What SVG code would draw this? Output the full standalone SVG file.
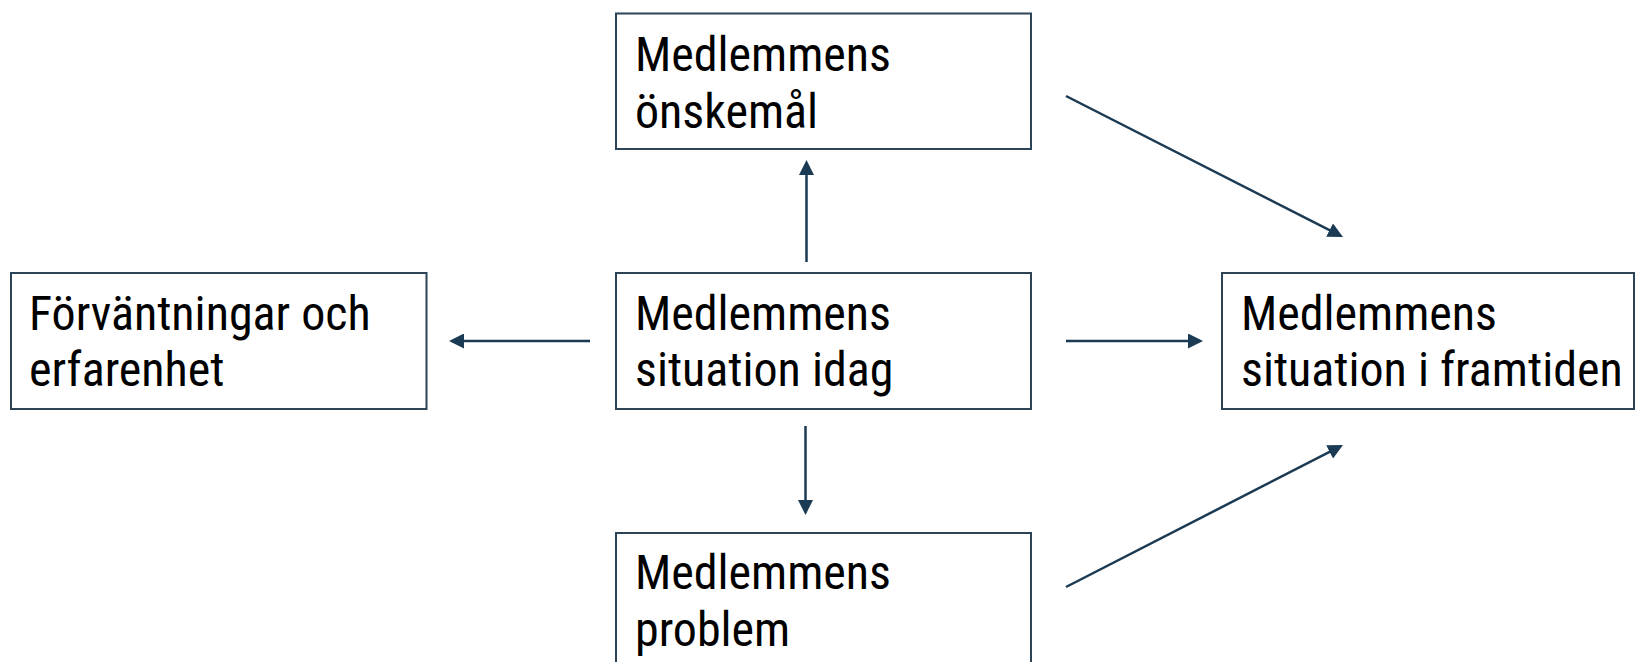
<svg xmlns="http://www.w3.org/2000/svg" width="1635" height="662" viewBox="0 0 1635 662">
  <style>
    .box { fill: #ffffff; stroke: #2d4457; stroke-width: 2; }
    .lbl { font-family: "Roboto Condensed", Roboto, "Liberation Sans", sans-serif; font-size: 48px; fill: #000000; }
    .conn { fill: none; stroke: #1b3a53; stroke-width: 2.5; marker-end: url(#arrow); }
  </style>
  <defs>
    <marker id="arrow" markerUnits="userSpaceOnUse" markerWidth="15" markerHeight="15" viewBox="0 0 15 15" refX="12" refY="7.5" orient="auto">
      <path d="M0,0 L15,7.5 L0,15 z" fill="#1b3a53"/>
    </marker>
  </defs>
  <rect width="1635" height="662" fill="#ffffff"/>

  <g id="node-onskemal">
    <rect class="box" x="616" y="13.5" width="415" height="135.5"/>
    <text class="lbl"><tspan x="635" y="71">Medlemmens</tspan><tspan x="635" y="127.5">önskemål</tspan></text>
  </g>

  <g id="node-forvantningar">
    <rect class="box" x="11" y="273" width="415.5" height="136"/>
    <text class="lbl"><tspan x="29" y="329.5">Förväntningar och</tspan><tspan x="29" y="386">erfarenhet</tspan></text>
  </g>

  <g id="node-idag">
    <rect class="box" x="616" y="273" width="415" height="136"/>
    <text class="lbl"><tspan x="635" y="329.5">Medlemmens</tspan><tspan x="635" y="386">situation idag</tspan></text>
  </g>

  <g id="node-framtiden">
    <rect class="box" x="1222" y="273" width="412" height="136"/>
    <text class="lbl"><tspan x="1241" y="329.5">Medlemmens</tspan><tspan x="1241" y="386">situation i framtiden</tspan></text>
  </g>

  <g id="node-problem">
    <rect class="box" x="616" y="533" width="415" height="140"/>
    <text class="lbl"><tspan x="635" y="589">Medlemmens</tspan><tspan x="635" y="645.5">problem</tspan></text>
  </g>

  <g id="connectors">
    <line class="conn" x1="806.5" y1="262" x2="806.5" y2="163"/>
    <line class="conn" x1="805.5" y1="426" x2="805.5" y2="512"/>
    <line class="conn" x1="590" y1="341" x2="452" y2="341"/>
    <line class="conn" x1="1066" y1="341" x2="1200" y2="341"/>
    <line class="conn" x1="1066" y1="96" x2="1340.3" y2="235.6"/>
    <line class="conn" x1="1066" y1="587" x2="1340.3" y2="446.4"/>
  </g>
</svg>
